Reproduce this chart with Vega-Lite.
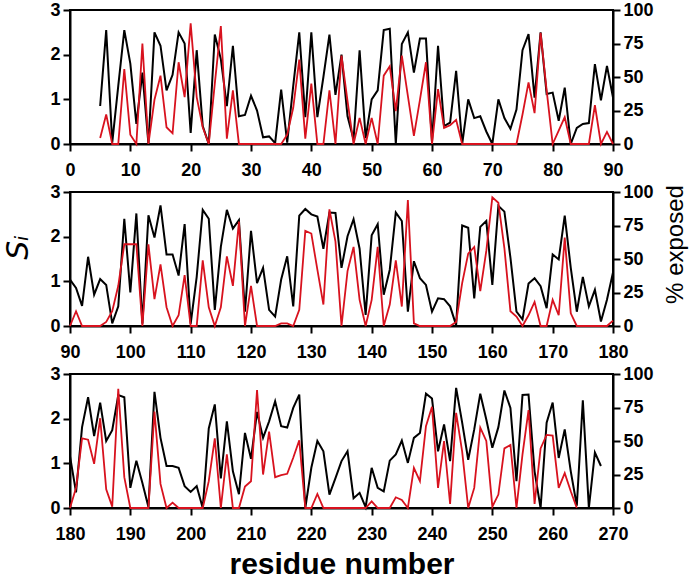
{
"$schema": "https://vega.github.io/schema/vega-lite/v6.json",
"padding": {"left": 2, "top": 0, "right": 0, "bottom": 0},
"datasets": {"d": [
{"p":1,"r":5,"s":0.85,"e":4.5},{"p":1,"r":6,"s":2.55,"e":22},{"p":1,"r":7,"s":0.03,"e":0},{"p":1,"r":8,"s":1.3,"e":0},{"p":1,"r":9,"s":2.55,"e":56},{"p":1,"r":10,"s":1.8,"e":7},{"p":1,"r":11,"s":0.45,"e":0},{"p":1,"r":12,"s":1.6,"e":75},{"p":1,"r":13,"s":0.0,"e":0},{"p":1,"r":14,"s":2.5,"e":33},{"p":1,"r":15,"s":2.2,"e":51},{"p":1,"r":16,"s":1.2,"e":12.5},{"p":1,"r":17,"s":1.55,"e":8},{"p":1,"r":18,"s":2.5,"e":61},{"p":1,"r":19,"s":2.25,"e":35},{"p":1,"r":20,"s":0.25,"e":90},{"p":1,"r":21,"s":2.1,"e":35},{"p":1,"r":22,"s":0.4,"e":12.5},{"p":1,"r":23,"s":0.0,"e":0},{"p":1,"r":24,"s":2.45,"e":45},{"p":1,"r":25,"s":1.9,"e":88},{"p":1,"r":26,"s":0.85,"e":4},{"p":1,"r":27,"s":2.2,"e":40},{"p":1,"r":28,"s":0.62,"e":0},{"p":1,"r":29,"s":0.65,"e":0},{"p":1,"r":30,"s":1.08,"e":0},
{"p":1,"r":31,"s":0.75,"e":0},{"p":1,"r":32,"s":0.15,"e":0},{"p":1,"r":33,"s":0.17,"e":0},{"p":1,"r":34,"s":0.02,"e":0},{"p":1,"r":35,"s":1.22,"e":0},{"p":1,"r":36,"s":0.03,"e":7},{"p":1,"r":37,"s":1.3,"e":27},{"p":1,"r":38,"s":2.5,"e":63},{"p":1,"r":39,"s":0.6,"e":4},{"p":1,"r":40,"s":2.5,"e":45},{"p":1,"r":41,"s":0.6,"e":0},{"p":1,"r":42,"s":1.5,"e":0},{"p":1,"r":43,"s":2.45,"e":40},{"p":1,"r":44,"s":1.1,"e":0},{"p":1,"r":45,"s":2.0,"e":66},{"p":1,"r":46,"s":0.62,"e":32},{"p":1,"r":47,"s":0.1,"e":0},{"p":1,"r":48,"s":2.1,"e":19.5},{"p":1,"r":49,"s":0.13,"e":0},{"p":1,"r":50,"s":1.0,"e":19.5},{"p":1,"r":51,"s":1.2,"e":0},{"p":1,"r":52,"s":2.55,"e":51},{"p":1,"r":53,"s":2.58,"e":58},{"p":1,"r":54,"s":0.0,"e":24.5},{"p":1,"r":55,"s":2.24,"e":66},{"p":1,"r":56,"s":2.5,"e":36},{"p":1,"r":57,"s":1.6,"e":6},{"p":1,"r":58,"s":2.36,"e":33},{"p":1,"r":59,"s":2.36,"e":61},{"p":1,"r":60,"s":0.05,"e":0},
{"p":1,"r":61,"s":2.2,"e":41},{"p":1,"r":62,"s":0.4,"e":12},{"p":1,"r":63,"s":0.48,"e":14},{"p":1,"r":64,"s":1.64,"e":18},{"p":1,"r":65,"s":0.0,"e":0},{"p":1,"r":66,"s":1.0,"e":0},{"p":1,"r":67,"s":0.58,"e":0},{"p":1,"r":68,"s":0.62,"e":0},{"p":1,"r":69,"s":0.28,"e":0},{"p":1,"r":70,"s":0.0,"e":0},{"p":1,"r":71,"s":1.0,"e":0},{"p":1,"r":72,"s":0.58,"e":0},{"p":1,"r":73,"s":0.34,"e":0},{"p":1,"r":74,"s":0.77,"e":0},{"p":1,"r":75,"s":2.1,"e":22},{"p":1,"r":76,"s":2.46,"e":46},{"p":1,"r":77,"s":1.04,"e":23},{"p":1,"r":78,"s":2.5,"e":83},{"p":1,"r":79,"s":1.12,"e":40},{"p":1,"r":80,"s":1.15,"e":0},{"p":1,"r":81,"s":0.52,"e":10},{"p":1,"r":82,"s":1.26,"e":20},{"p":1,"r":83,"s":0.0,"e":0},{"p":1,"r":84,"s":0.36,"e":0},{"p":1,"r":85,"s":0.45,"e":0},{"p":1,"r":86,"s":0.47,"e":0},{"p":1,"r":87,"s":1.79,"e":29},{"p":1,"r":88,"s":0.98,"e":0},{"p":1,"r":89,"s":1.75,"e":9},{"p":1,"r":90,"s":1.04,"e":0},
{"p":2,"r":90,"s":1.04,"e":0},{"p":2,"r":91,"s":0.85,"e":11},{"p":2,"r":92,"s":0.45,"e":0},{"p":2,"r":93,"s":1.55,"e":0},{"p":2,"r":94,"s":0.7,"e":0},{"p":2,"r":95,"s":1.05,"e":0},{"p":2,"r":96,"s":0.92,"e":3},{"p":2,"r":97,"s":0.06,"e":11},{"p":2,"r":98,"s":0.44,"e":30},{"p":2,"r":99,"s":2.4,"e":61},{"p":2,"r":100,"s":0.75,"e":61},{"p":2,"r":101,"s":2.52,"e":61},{"p":2,"r":102,"s":0.05,"e":0},{"p":2,"r":103,"s":2.48,"e":61},{"p":2,"r":104,"s":1.98,"e":20},{"p":2,"r":105,"s":2.7,"e":46},{"p":2,"r":106,"s":1.6,"e":14},{"p":2,"r":107,"s":1.6,"e":0},{"p":2,"r":108,"s":1.13,"e":8},{"p":2,"r":109,"s":2.28,"e":38},{"p":2,"r":110,"s":0.05,"e":0},{"p":2,"r":111,"s":1.1,"e":0},{"p":2,"r":112,"s":2.6,"e":49},{"p":2,"r":113,"s":2.4,"e":14},{"p":2,"r":114,"s":0.36,"e":0},{"p":2,"r":115,"s":1.77,"e":14},{"p":2,"r":116,"s":2.6,"e":52},{"p":2,"r":117,"s":2.18,"e":30},{"p":2,"r":118,"s":2.37,"e":78},{"p":2,"r":119,"s":0.32,"e":0},{"p":2,"r":120,"s":2.13,"e":30},
{"p":2,"r":121,"s":0.96,"e":0},{"p":2,"r":122,"s":1.3,"e":0},{"p":2,"r":123,"s":0.36,"e":0},{"p":2,"r":124,"s":0.21,"e":0},{"p":2,"r":125,"s":1.04,"e":2},{"p":2,"r":126,"s":1.56,"e":2},{"p":2,"r":127,"s":0.44,"e":0},{"p":2,"r":128,"s":2.47,"e":12},{"p":2,"r":129,"s":2.62,"e":71},{"p":2,"r":130,"s":2.5,"e":69},{"p":2,"r":131,"s":2.45,"e":42},{"p":2,"r":132,"s":1.73,"e":16},{"p":2,"r":133,"s":2.54,"e":87},{"p":2,"r":134,"s":2.53,"e":63},{"p":2,"r":135,"s":1.3,"e":0},{"p":2,"r":136,"s":2.01,"e":41},{"p":2,"r":137,"s":2.39,"e":59},{"p":2,"r":138,"s":1.73,"e":19.5},{"p":2,"r":139,"s":0.25,"e":0},{"p":2,"r":140,"s":2.03,"e":19.5},{"p":2,"r":141,"s":2.28,"e":59},{"p":2,"r":142,"s":0.7,"e":0},{"p":2,"r":143,"s":1.26,"e":16},{"p":2,"r":144,"s":2.54,"e":49},{"p":2,"r":145,"s":2.35,"e":14.5},{"p":2,"r":146,"s":0.32,"e":94},{"p":2,"r":147,"s":1.45,"e":2},{"p":2,"r":148,"s":1.07,"e":0},{"p":2,"r":149,"s":0.92,"e":0},{"p":2,"r":150,"s":0.32,"e":0},
{"p":2,"r":151,"s":0.62,"e":0},{"p":2,"r":152,"s":0.6,"e":0},{"p":2,"r":153,"s":0.44,"e":0},{"p":2,"r":154,"s":0.02,"e":3},{"p":2,"r":155,"s":2.25,"e":32},{"p":2,"r":156,"s":2.2,"e":54},{"p":2,"r":157,"s":0.62,"e":59},{"p":2,"r":158,"s":2.22,"e":26},{"p":2,"r":159,"s":2.35,"e":56},{"p":2,"r":160,"s":0.92,"e":96},{"p":2,"r":161,"s":2.69,"e":92},{"p":2,"r":162,"s":2.56,"e":58},{"p":2,"r":163,"s":1.53,"e":11},{"p":2,"r":164,"s":0.32,"e":7},{"p":2,"r":165,"s":0.15,"e":0},{"p":2,"r":166,"s":0.95,"e":8},{"p":2,"r":167,"s":1.07,"e":18},{"p":2,"r":168,"s":0.89,"e":0},{"p":2,"r":169,"s":0.4,"e":0},{"p":2,"r":170,"s":1.6,"e":19.5},{"p":2,"r":171,"s":1.49,"e":8},{"p":2,"r":172,"s":2.47,"e":66},{"p":2,"r":173,"s":1.3,"e":9.5},{"p":2,"r":174,"s":0.32,"e":0},{"p":2,"r":175,"s":1.1,"e":0},{"p":2,"r":176,"s":0.44,"e":0},{"p":2,"r":177,"s":0.81,"e":0},{"p":2,"r":178,"s":0.1,"e":0},{"p":2,"r":179,"s":0.59,"e":0},{"p":2,"r":180,"s":1.2,"e":4},
{"p":3,"r":180,"s":1.16,"e":0},{"p":3,"r":181,"s":0.35,"e":15},{"p":3,"r":182,"s":1.81,"e":52},{"p":3,"r":183,"s":2.48,"e":51},{"p":3,"r":184,"s":1.61,"e":33},{"p":3,"r":185,"s":2.36,"e":67},{"p":3,"r":186,"s":1.5,"e":14},{"p":3,"r":187,"s":1.74,"e":1},{"p":3,"r":188,"s":2.53,"e":89},{"p":3,"r":189,"s":2.48,"e":23},{"p":3,"r":190,"s":0.45,"e":0},{"p":3,"r":191,"s":1.06,"e":0},{"p":3,"r":192,"s":0.56,"e":0},{"p":3,"r":193,"s":0.02,"e":0},{"p":3,"r":194,"s":2.6,"e":72},{"p":3,"r":195,"s":1.57,"e":18},{"p":3,"r":196,"s":0.94,"e":0},{"p":3,"r":197,"s":0.94,"e":4},{"p":3,"r":198,"s":0.9,"e":0},{"p":3,"r":199,"s":0.49,"e":0},{"p":3,"r":200,"s":0.36,"e":0},{"p":3,"r":201,"s":0.49,"e":0},{"p":3,"r":202,"s":0.0,"e":0},{"p":3,"r":203,"s":1.78,"e":20},{"p":3,"r":204,"s":2.32,"e":52},{"p":3,"r":205,"s":0.66,"e":0},{"p":3,"r":206,"s":1.94,"e":40},{"p":3,"r":207,"s":0.82,"e":0},{"p":3,"r":208,"s":0.31,"e":0},{"p":3,"r":209,"s":1.68,"e":16},{"p":3,"r":210,"s":1.1,"e":20},
{"p":3,"r":211,"s":2.15,"e":88},{"p":3,"r":212,"s":1.57,"e":25},{"p":3,"r":213,"s":1.94,"e":57},{"p":3,"r":214,"s":2.39,"e":23},{"p":3,"r":215,"s":1.83,"e":24.5},{"p":3,"r":216,"s":1.8,"e":25.5},{"p":3,"r":217,"s":2.24,"e":37.5},{"p":3,"r":218,"s":2.54,"e":50.5},{"p":3,"r":219,"s":0.0,"e":0},{"p":3,"r":220,"s":0.9,"e":0},{"p":3,"r":221,"s":1.5,"e":10.5},{"p":3,"r":222,"s":1.27,"e":0},{"p":3,"r":223,"s":0.3,"e":0},{"p":3,"r":224,"s":0.67,"e":0},{"p":3,"r":225,"s":1.05,"e":0},{"p":3,"r":226,"s":1.27,"e":0},{"p":3,"r":227,"s":0.22,"e":0},{"p":3,"r":228,"s":0.34,"e":0},{"p":3,"r":229,"s":0.02,"e":0},{"p":3,"r":230,"s":0.9,"e":5},{"p":3,"r":231,"s":0.45,"e":0},{"p":3,"r":232,"s":0.37,"e":0},{"p":3,"r":233,"s":1.06,"e":0},{"p":3,"r":234,"s":1.2,"e":8},{"p":3,"r":235,"s":1.51,"e":6},{"p":3,"r":236,"s":1.01,"e":0},{"p":3,"r":237,"s":1.57,"e":30},{"p":3,"r":238,"s":1.68,"e":20},{"p":3,"r":239,"s":2.56,"e":61},{"p":3,"r":240,"s":2.45,"e":75.5},
{"p":3,"r":241,"s":1.27,"e":15},{"p":3,"r":242,"s":1.87,"e":50},{"p":3,"r":243,"s":1.05,"e":3},{"p":3,"r":244,"s":2.69,"e":71},{"p":3,"r":245,"s":1.91,"e":42},{"p":3,"r":246,"s":1.08,"e":0},{"p":3,"r":247,"s":1.76,"e":15},{"p":3,"r":248,"s":2.56,"e":60},{"p":3,"r":249,"s":1.98,"e":50},{"p":3,"r":250,"s":1.35,"e":1},{"p":3,"r":251,"s":1.81,"e":10},{"p":3,"r":252,"s":2.63,"e":44.5},{"p":3,"r":253,"s":2.24,"e":47},{"p":3,"r":254,"s":0.6,"e":0},{"p":3,"r":255,"s":2.53,"e":40},{"p":3,"r":256,"s":2.54,"e":73},{"p":3,"r":257,"s":0.82,"e":3},{"p":3,"r":258,"s":0.0,"e":44.5},{"p":3,"r":259,"s":1.91,"e":54.5},{"p":3,"r":260,"s":2.36,"e":54},{"p":3,"r":261,"s":1.12,"e":15},{"p":3,"r":262,"s":1.76,"e":26},{"p":3,"r":263,"s":0.82,"e":12.5},{"p":3,"r":264,"s":0.05,"e":0},{"p":3,"r":265,"s":2.41,"e":null},{"p":3,"r":266,"s":0.0,"e":null},{"p":3,"r":267,"s":1.24,"e":null},{"p":3,"r":268,"s":0.94,"e":null}
]},
"data": {"name": "d"},
"spacing": 2,
"vconcat": [
{
 "width": 543, "height": 134,
 "transform": [{"filter": "datum.p == 1"}],
 "layer": [
  {"mark": {"type": "line", "color": "black", "strokeWidth": 2},
   "encoding": {
    "x": {"field": "r", "type": "quantitative", "scale": {"domain": [0, 90], "nice": false, "zero": false},
          "axis": {"values": [0,5,10,15,20,25,30,35,40,45,50,55,60,65,70,75,80,85,90], "labelExpr": "datum.value % 10 == 0 ? datum.label : ''", "title": null, "labelOverlap": false, "labelFlush": false}},
    "y": {"field": "s", "type": "quantitative", "scale": {"domain": [0, 3], "nice": false}, "axis": {"values": [0,1,2,3], "title": null}}
   }},
  {"mark": {"type": "line", "color": "#d8121e", "strokeWidth": 1.8},
   "encoding": {
    "x": {"field": "r", "type": "quantitative"},
    "y": {"field": "e", "type": "quantitative", "scale": {"domain": [0, 100], "nice": false}, "axis": {"orient": "right", "values": [0,25,50,75,100], "title": null}}
   }}
 ],
 "resolve": {"scale": {"y": "independent"}}
},
{
 "width": 543, "height": 134,
 "transform": [{"filter": "datum.p == 2"}],
 "layer": [
  {"mark": {"type": "line", "color": "black", "strokeWidth": 2},
   "encoding": {
    "x": {"field": "r", "type": "quantitative", "scale": {"domain": [90, 180], "nice": false, "zero": false},
          "axis": {"values": [90,95,100,105,110,115,120,125,130,135,140,145,150,155,160,165,170,175,180], "labelExpr": "datum.value % 10 == 0 ? datum.label : ''", "title": null, "labelOverlap": false, "labelFlush": false}},
    "y": {"field": "s", "type": "quantitative", "scale": {"domain": [0, 3], "nice": false}, "axis": {"values": [0,1,2,3], "title": "Sᵢ", "titleFontStyle": "italic", "titleFontWeight": "normal", "titleFontSize": 30, "titleFont": "DejaVu Sans", "titlePadding": 16, "titleY": 55}}
   }},
  {"mark": {"type": "line", "color": "#d8121e", "strokeWidth": 1.8},
   "encoding": {
    "x": {"field": "r", "type": "quantitative"},
    "y": {"field": "e", "type": "quantitative", "scale": {"domain": [0, 100], "nice": false}, "axis": {"orient": "right", "values": [0,25,50,75,100], "title": "% exposed", "titleAngle": 270, "titleBaseline": "top", "titleAlign": "center", "titleFontWeight": "normal", "titleFontSize": 24, "titlePadding": 10, "titleY": 52}}
   }}
 ],
 "resolve": {"scale": {"y": "independent"}}
},
{
 "width": 543, "height": 134,
 "transform": [{"filter": "datum.p == 3"}],
 "layer": [
  {"mark": {"type": "line", "color": "black", "strokeWidth": 2},
   "encoding": {
    "x": {"field": "r", "type": "quantitative", "scale": {"domain": [180, 270], "nice": false, "zero": false},
          "axis": {"values": [180,185,190,195,200,205,210,215,220,225,230,235,240,245,250,255,260,265,270], "labelExpr": "datum.value % 10 == 0 ? datum.label : ''", "title": "residue number", "titleFontSize": 30, "titleFontWeight": "bold", "titlePadding": 6, "labelOverlap": false, "labelFlush": false}},
    "y": {"field": "s", "type": "quantitative", "scale": {"domain": [0, 3], "nice": false}, "axis": {"values": [0,1,2,3], "title": null}}
   }},
  {"mark": {"type": "line", "color": "#d8121e", "strokeWidth": 1.8},
   "encoding": {
    "x": {"field": "r", "type": "quantitative"},
    "y": {"field": "e", "type": "quantitative", "scale": {"domain": [0, 100], "nice": false}, "axis": {"orient": "right", "values": [0,25,50,75,100], "title": null}}
   }}
 ],
 "resolve": {"scale": {"y": "independent"}}
}
],
"config": {
 "view": {"stroke": "black", "strokeWidth": 2},
 "axis": {"domainColor": "black", "domainWidth": 2, "tickColor": "black", "tickWidth": 2, "tickSize": 7, "labelFont": "Liberation Sans", "labelFontWeight": "bold", "labelFontSize": 18, "labelColor": "black", "labelPadding": 3, "grid": false, "titleColor": "black", "titleFont": "Liberation Sans"},
 "axisX": {"labelPadding": 10}
}
}
